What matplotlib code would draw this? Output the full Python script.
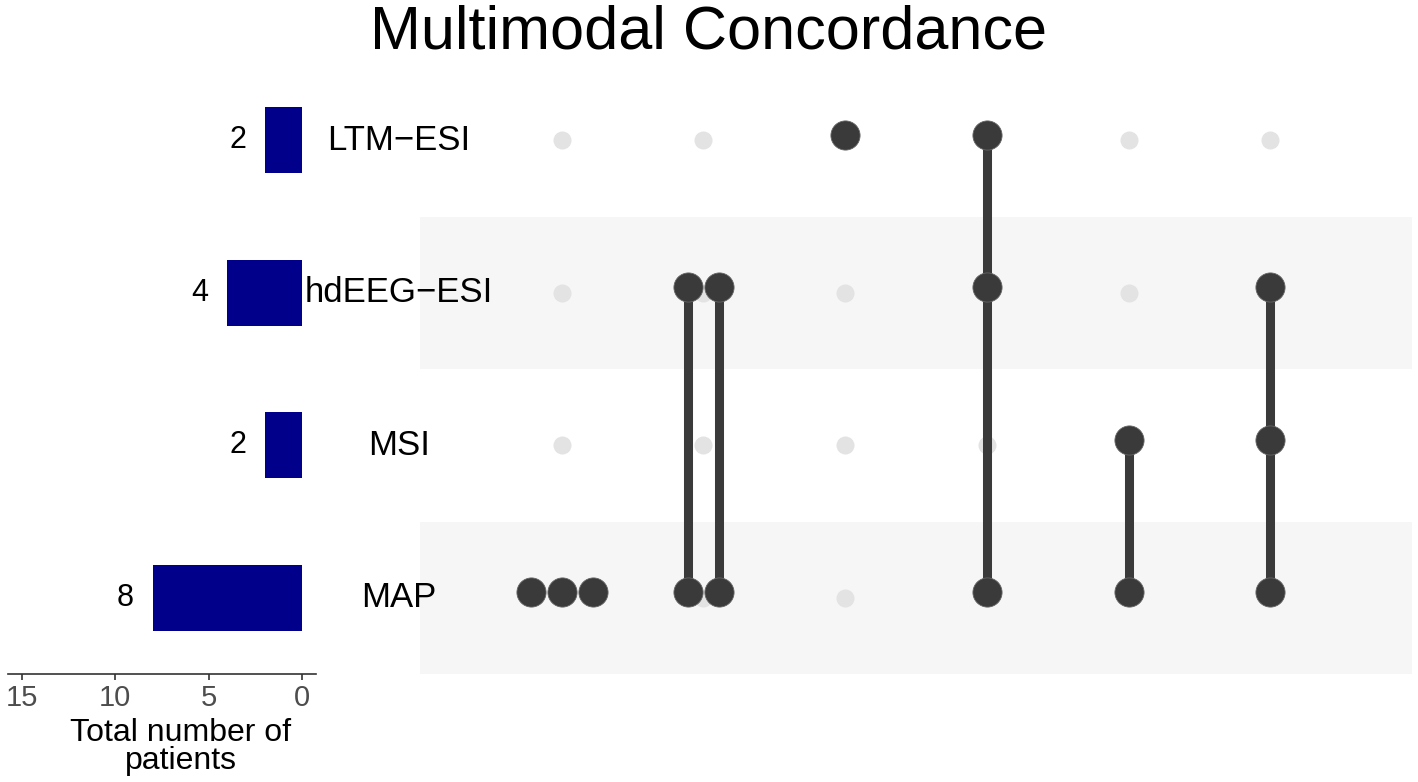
import matplotlib
matplotlib.use("Agg")
import matplotlib.pyplot as plt
import matplotlib.transforms as mtransforms

plt.rcParams["font.family"] = ["Liberation Sans", "DejaVu Sans"]

# Data
set_names = ["LTM\u2212ESI", "hdEEG\u2212ESI", "MSI", "MAP"]  # top to bottom
set_totals = [2, 4, 2, 8]
combo_members = [
    ["MAP"],
    ["hdEEG\u2212ESI", "MAP"],
    ["LTM\u2212ESI"],
    ["LTM\u2212ESI", "hdEEG\u2212ESI", "MAP"],
    ["MSI", "MAP"],
    ["hdEEG\u2212ESI", "MSI", "MAP"],
]
combo_counts = [3, 2, 1, 1, 1, 1]
bar_ticks = [15, 10, 5, 0]

bar_color = "#00008B"
dot_dark = "#3a3a3a"
dot_light = "#e3e3e3"
stripe_color = "#f6f6f6"

W, H = 1418, 782
fig = plt.figure(figsize=(W / 100, H / 100), dpi=100)

n_sets = len(set_names)
row_y = {name: n_sets - 1 - i for i, name in enumerate(set_names)}

top_px, bot_px = 64, 674
ax_bar = fig.add_axes([8 / W, 1 - bot_px / H, 308 / W, (bot_px - top_px) / H])
ax_mat = fig.add_axes([420 / W, 1 - bot_px / H, 992 / W, (bot_px - top_px) / H])
ax_bar.set_zorder(3)
ax_bar.patch.set_visible(False)

# Left bar chart of set sizes
ys = [row_y[n] for n in set_names]
ax_bar.barh(ys, set_totals, height=0.43, color=bar_color)
ax_bar.set_xlim(15.75, -0.75)
ax_bar.set_ylim(-0.5, n_sets - 0.5)
for y, v in zip(ys, set_totals):
    ax_bar.text(v + 1.0, y, str(v), ha="right", va="center", fontsize=22, color="black")
ax_bar.set_xticks(bar_ticks)
ax_bar.set_xticklabels([str(t) for t in bar_ticks], fontsize=21, color="#4d4d4d")
ax_bar.tick_params(axis="x", length=4, width=1.2, color="#333333", pad=3)
ax_bar.set_yticks([])
for s in ["top", "left", "right"]:
    ax_bar.spines[s].set_visible(False)
ax_bar.spines["bottom"].set_linewidth(1.2)
ax_bar.spines["bottom"].set_color("#333333")
ax_bar.set_xlabel("Total number of\npatients", fontsize=23, linespacing=0.9)
ax_bar.xaxis.set_label_coords(0.56, -0.072)
ax_bar.xaxis.label.set_va("top")

# Set names between the panels
trans = mtransforms.blended_transform_factory(ax_bar.transAxes, ax_bar.transData)
for name in set_names:
    ax_bar.text(1.27, row_y[name], name, transform=trans, ha="center", va="center",
                fontsize=25, color="black")

# Matrix panel
n_cols = len(combo_members)
ax_mat.set_xlim(0, n_cols + 1)
ax_mat.set_ylim(-0.5, n_sets - 0.5)
for name in set_names:
    if set_names.index(name) % 2 == 1:
        ax_mat.axhspan(row_y[name] - 0.5, row_y[name] + 0.5, color=stripe_color, lw=0, zorder=0)

nudge = 0.035
spread = 0.22
for c, (members, count) in enumerate(zip(combo_members, combo_counts)):
    xc = c + 1
    ax_mat.scatter([xc] * n_sets, list(range(n_sets)), s=13 ** 2, color=dot_light,
                   lw=0, zorder=1)
    yy = sorted(row_y[m] + nudge for m in members)
    for k in range(count):
        x = xc + (k - (count - 1) / 2) * spread
        if len(yy) > 1:
            ax_mat.plot([x, x], [yy[0], yy[-1]], color=dot_dark, lw=6.5,
                        solid_capstyle="butt", zorder=2)
        ax_mat.scatter([x] * len(yy), yy, s=21 ** 2, color=dot_dark,
                       edgecolor="#666666", lw=0.6, zorder=3)
ax_mat.axis("off")

fig.text(709 / W, 1 - 33 / H, "Multimodal Concordance", ha="center", va="center",
         fontsize=44)

fig.savefig("out.png", dpi=100)
